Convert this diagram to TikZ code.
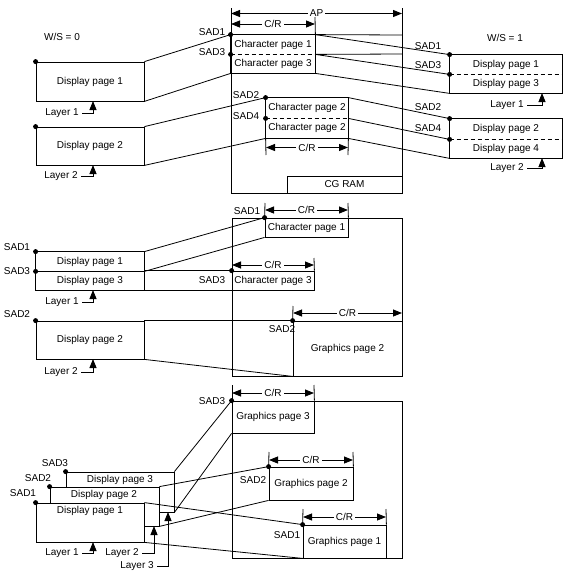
\documentclass[tikz,border=0pt]{standalone}
\usepackage{fontspec}
\setmainfont{Liberation Sans}
\usetikzlibrary{arrows.meta,fit}
\begin{document}
\begin{tikzpicture}[x=1pt,y=-1pt,line width=0.8pt,
  font=\fontsize{10}{12}\selectfont,
  pg/.style={draw,inner sep=0pt,fill=white},
  cell/.style={inner sep=0pt},
  lab/.style={inner sep=1pt},
  dot/.style={circle,fill=black,inner sep=0pt,minimum size=5pt},
  dimarr/.style={{Triangle[length=9pt,width=7pt]}-{Triangle[length=9pt,width=7pt]}},
  layarr/.style={-{Triangle[length=9pt,width=7pt]}},
  dimlab/.style={fill=white,inner sep=2pt},
  pgdash/.style={dash pattern=on 4pt off 3pt}]
\useasboundingbox (0,0) rectangle (566,576);

% ================= TOP SECTION =================
\node[lab] (ws0) at (62,37) {W/S = 0};
\node[lab] (ws1) at (505,38) {W/S = 1};

% memory box
\draw (231,8) -- (231,193) -- (402,193) -- (402,8);
\coordinate (apL) at (231,13.5); \coordinate (apR) at (402,13.5);
\draw[dimarr] (apL) -- node[dimlab] (apT) {AP} (apR);

\node[cell,fit={(231,35)(315,54)}] (cpA1) {};
\node[cell,fit={(231,54)(315,73)}] (cpA3) {};
\draw (cpA1.north west) rectangle (cpA3.south east);
\draw[pgdash] (cpA1.south west) -- (cpA1.south east);
\node[lab] (tcpA1) at (cpA1.center) {Character page 1};
\node[lab] (tcpA3) at (cpA3.center) {Character page 3};
\coordinate (rA1) at (402,35); \coordinate (rA3) at (402,54);
\draw (cpA1.north east) -- (rA1);
\draw (cpA1.south east) -- (rA3);
\coordinate (crAL) at (231,24); \coordinate (crAR) at (315,24);
\coordinate (tkA) at (315,17);
\draw (tkA) -- (cpA1.north east);
\draw[dimarr] (crAL) -- node[dimlab] (crAT) {C/R} (crAR);

\node[cell,fit={(266,98)(348,118)}] (cpA2) {};
\node[cell,fit={(266,118)(348,138)}] (cpA4) {};
\draw (cpA2.north west) rectangle (cpA4.south east);
\draw[pgdash] (cpA2.south west) -- (cpA2.south east);
\node[lab] (tcpA2) at (cpA2.center) {Character page 2};
\node[lab] (tcpA4) at (cpA4.center) {Character page 2};
\coordinate (tkB1) at (266,155); \coordinate (tkB2) at (348,155);
\draw (cpA4.south west) -- (tkB1);
\draw (cpA4.south east) -- (tkB2);
\coordinate (crBL) at (266,147.5); \coordinate (crBR) at (348,147.5);
\draw[dimarr] (crBL) -- node[dimlab] (crBT) {C/R} (crBR);

\node[pg,fit={(287,176)(402,193)}] (cgram) {};
\node[lab] (tcg) at (cgram.center) {CG RAM};

\node[lab] (sA1) at (212,32) {SAD1};
\node[lab] (sA3) at (212,52) {SAD3};
\node[lab] (sA2) at (246,95) {SAD2};
\node[lab] (sA4) at (246,116) {SAD4};

% left display pages
\node[pg,fit={(36,62)(144,101)}] (dpL1) {};
\node[pg,fit={(36,127)(144,165)}] (dpL2) {};
\node[lab] (tdpL1) at (dpL1.center) {Display page 1};
\node[lab] (tdpL2) at (dpL2.center) {Display page 2};
\node[lab] (lyL1) at (62,113) {Layer 1};
\node[lab] (lyL2) at (61,176) {Layer 2};
\coordinate (lyL1t) at (93,101); \coordinate (lyL2t) at (93,165);
\draw[layarr] ([xshift=2pt]lyL1.east) -| (lyL1t);
\draw[layarr] ([xshift=2pt]lyL2.east) -| (lyL2t);

% right display pages
\node[cell,fit={(450,55)(562,74)}] (dpR1) {};
\node[cell,fit={(450,74)(562,93)}] (dpR3) {};
\draw (dpR1.north west) rectangle (dpR3.south east);
\draw[pgdash] (dpR1.south west) -- (dpR1.south east);
\node[cell,fit={(450,119)(562,139)}] (dpR2) {};
\node[cell,fit={(450,139)(562,158)}] (dpR4) {};
\draw (dpR2.north west) rectangle (dpR4.south east);
\draw[pgdash] (dpR2.south west) -- (dpR2.south east);
\node[lab] (tdpR1) at (dpR1.center) {Display page 1};
\node[lab] (tdpR3) at (dpR3.center) {Display page 3};
\node[lab] (tdpR2) at (dpR2.center) {Display page 2};
\node[lab] (tdpR4) at (dpR4.center) {Display page 4};
\node[lab] (sR1) at (428,46) {SAD1};
\node[lab] (sR3) at (428,65) {SAD3};
\node[lab] (sR2) at (428,107) {SAD2};
\node[lab] (sR4) at (428,128) {SAD4};
\node[lab] (lyR1) at (507,105) {Layer 1};
\node[lab] (lyR2) at (507,168) {Layer 2};
\coordinate (lyR1t) at (542,93); \coordinate (lyR2t) at (542,158);
\draw[layarr] ([xshift=2pt]lyR1.east) -| (lyR1t);
\draw[layarr] ([xshift=2pt]lyR2.east) -| (lyR2t);

% connectors
\draw (dpL1.north east) -- (cpA1.north west);
\draw (dpL1.south east) -- (cpA3.south west);
\draw (dpL2.north east) -- (cpA2.north west);
\draw (dpL2.south east) -- (cpA4.south west);
\draw (cpA1.north east) -- (dpR1.north west);
\draw (cpA1.south east) -- (dpR1.south west);
\draw (cpA3.south east) -- (dpR3.south west);
\draw (cpA2.north east) -- (dpR2.north west);
\draw (cpA2.south east) -- (dpR2.south west);
\draw (cpA4.south east) -- (dpR4.south west);

\node[dot] (kA1) at (cpA1.north west) {};
\node[dot] (kA3) at (cpA1.south west) {};
\node[dot] (kA2) at (cpA2.north west) {};
\node[dot] (kA4) at (cpA2.south west) {};
\node[dot] (kL1) at (dpL1.north west) {};
\node[dot] (kL2) at (dpL2.north west) {};
\node[dot] (kR1) at (dpR1.north west) {};
\node[dot] (kR3) at (dpR1.south west) {};
\node[dot] (kR2) at (dpR2.north west) {};
\node[dot] (kR4) at (dpR2.south west) {};

% ================= MIDDLE SECTION =================
\node[pg,fit={(232,218)(402,376)}] (bigM) {};
\node[pg,fit={(265,218)(348,237)}] (cpM1) {};
\node[pg,fit={(232,271)(314,290)}] (cpM3) {};
\node[pg,fit={(293,321)(402,376)}] (gpM2) {};
\node[lab] (tcpM1) at (cpM1.center) {Character page 1};
\node[lab] (tcpM3) at (cpM3.center) {Character page 3};
\node[lab] (tgpM2) at (gpM2.center) {Graphics page 2};
\coordinate (tkM1) at (265,203); \coordinate (tkM2) at (348,203);
\draw (tkM1) -- (cpM1.north west); \draw (tkM2) -- (cpM1.north east);
\coordinate (crM1L) at (265,210); \coordinate (crM1R) at (348,210);
\draw[dimarr] (crM1L) -- node[dimlab] (crM1T) {C/R} (crM1R);
\coordinate (tkM3) at (314,258);
\draw (tkM3) -- (cpM3.north east);
\coordinate (crM3L) at (232,265); \coordinate (crM3R) at (314,265);
\draw[dimarr] (crM3L) -- node[dimlab] (crM3T) {C/R} (crM3R);
\coordinate (tkM4) at (293,306);
\draw (tkM4) -- (gpM2.north west);
\coordinate (crM4L) at (293,313); \coordinate (crM4R) at (402,313);
\draw[dimarr] (crM4L) -- node[dimlab] (crM4T) {C/R} (crM4R);

\node[cell,fit={(36,252)(144,271)}] (dpM1) {};
\node[cell,fit={(36,271)(144,290)}] (dpM3) {};
\draw (dpM1.north west) rectangle (dpM3.south east);
\draw (dpM1.south west) -- (dpM1.south east);
\node[pg,fit={(36,321)(144,359)}] (dpM2) {};
\node[lab] (tdpM1) at (dpM1.center) {Display page 1};
\node[lab] (tdpM3) at (dpM3.center) {Display page 3};
\node[lab] (tdpM2) at (dpM2.center) {Display page 2};

\draw (dpM1.north east) -- (cpM1.north west);
\draw (dpM1.south east) -- (cpM1.south west);
\draw (dpM3.north east) -- (cpM3.north west);
\draw (dpM3.south east) -- (cpM3.south west);
\draw (dpM2.north east) -- (gpM2.north west);
\draw (dpM2.south east) -- (gpM2.south west);

\node[lab] (sM1) at (247,211) {SAD1};
\node[lab] (sML1) at (17,247) {SAD1};
\node[lab] (sML3) at (17,271) {SAD3};
\node[lab] (sML2) at (17,314) {SAD2};
\node[lab] (sM3) at (212,280) {SAD3};
\node[lab] (sM2) at (282,329) {SAD2};
\node[lab] (lyM1) at (62,302) {Layer 1};
\node[lab] (lyM2) at (61,372) {Layer 2};
\coordinate (lyM1t) at (93,290); \coordinate (lyM2t) at (93,359);
\draw[layarr] ([xshift=2pt]lyM1.east) -| (lyM1t);
\draw[layarr] ([xshift=2pt]lyM2.east) -| (lyM2t);

\node[dot] (kM1) at (cpM1.north west) {};
\node[dot] (kM3) at (cpM3.north west) {};
\node[dot] (kM2) at (gpM2.north west) {};
\node[dot] (kML1) at (dpM1.north west) {};
\node[dot] (kML3) at (dpM1.south west) {};
\node[dot] (kML2) at (dpM2.north west) {};

% ================= BOTTOM SECTION =================
\draw (232,385) -- (232,558) -- (402,558) -- (402,401) -- (314,401);
\node[pg,fit={(232,401)(314,433)}] (gpB3) {};
\node[pg,fit={(269,467)(353,500)}] (gpB2) {};
\node[pg,fit={(303,525)(386,558)}] (gpB1) {};
\node[lab] (tgpB3) at (gpB3.center) {Graphics page 3};
\node[lab] (tgpB2) at (gpB2.center) {Graphics page 2};
\node[lab] (tgpB1) at (gpB1.center) {Graphics page 1};
\coordinate (tkB3) at (314,385);
\draw (tkB3) -- (gpB3.north east);
\coordinate (crB3L) at (232,393); \coordinate (crB3R) at (314,393);
\draw[dimarr] (crB3L) -- node[dimlab] (crB3T) {C/R} (crB3R);
\coordinate (tkB21) at (269,452); \coordinate (tkB22) at (353,452);
\draw (tkB21) -- (gpB2.north west); \draw (tkB22) -- (gpB2.north east);
\coordinate (crB2L) at (269,460); \coordinate (crB2R) at (353,460);
\draw[dimarr] (crB2L) -- node[dimlab] (crB2T) {C/R} (crB2R);
\coordinate (tkB11) at (303,509); \coordinate (tkB12) at (386,509);
\draw (tkB11) -- (gpB1.north west); \draw (tkB12) -- (gpB1.north east);
\coordinate (crB1L) at (303,517); \coordinate (crB1R) at (386,517);
\draw[dimarr] (crB1L) -- node[dimlab] (crB1T) {C/R} (crB1R);

\node[pg,fit={(66,472)(174,512)}] (dq3) {};
\node[pg,fit={(50,487)(159,526)}] (dq2) {};
\node[pg,fit={(36,503)(144,542)}] (dq1) {};
\node[lab] (tq3) at (120,480) {Display page 3};
\node[lab] (tq2) at (104,495) {Display page 2};
\node[lab] (tq1) at (90,511) {Display page 1};

\draw (dq3.north east) -- (gpB3.north west);
\draw (dq3.south east) -- (gpB3.south west);
\draw (dq2.north east) -- (gpB2.north west);
\draw (dq2.south east) -- (gpB2.south west);
\draw (dq1.north east) -- (gpB1.north west);
\draw (dq1.south east) -- (gpB1.south west);

\node[lab] (sB3) at (212,401) {SAD3};
\node[lab] (sB2) at (253,480) {SAD2};
\node[lab] (sB1) at (287,535) {SAD1};
\node[lab] (sBL3) at (55,463) {SAD3};
\node[lab] (sBL2) at (38,478) {SAD2};
\node[lab] (sBL1) at (23,493) {SAD1};
\node[lab] (lyB1) at (62,553) {Layer 1};
\node[lab] (lyB2) at (122,553) {Layer 2};
\node[lab] (lyB3) at (137,566) {Layer 3};
\coordinate (lyB1t) at (93,542); \coordinate (lyB2t) at (154,526); \coordinate (lyB3t) at (168,512);
\draw[layarr] ([xshift=2pt]lyB1.east) -| (lyB1t);
\draw[layarr] ([xshift=2pt]lyB2.east) -| (lyB2t);
\draw[layarr] ([xshift=2pt]lyB3.east) -| (lyB3t);

\node[dot] (kB3) at (gpB3.north west) {};
\node[dot] (kB2) at (gpB2.north west) {};
\node[dot] (kB1) at (gpB1.north west) {};
\node[dot] (kBL3) at (dq3.north west) {};
\node[dot] (kBL2) at (dq2.north west) {};
\node[dot] (kBL1) at (dq1.north west) {};
\end{tikzpicture}
\end{document}
